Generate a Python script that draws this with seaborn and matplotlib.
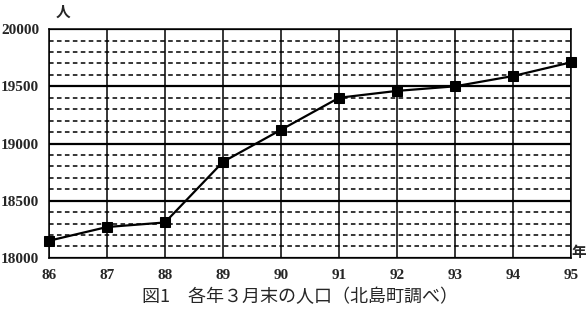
import matplotlib
matplotlib.use("Agg")
import matplotlib.pyplot as plt
import seaborn as sns
import pandas as pd
from matplotlib.ticker import MultipleLocator

years = [86, 87, 88, 89, 90, 91, 92, 93, 94, 95]
population = [18150, 18270, 18310, 18840, 19120, 19400, 19460, 19500, 19590, 19710]
y_ticks = [18000, 18500, 19000, 19500, 20000]
caption = "図1　各年３月末の人口（北島町調べ）"

sns.set_theme(style="white")
plt.rcParams['font.family'] = ['Liberation Serif', 'Noto Sans CJK JP', 'DejaVu Sans']

df = pd.DataFrame({"year": years, "pop": population})

fig = plt.figure(figsize=(5.88, 3.13), dpi=100)
ax = fig.add_axes([0.0833, 0.176, 0.888, 0.731])

ax.set_xlim(86, 95)
ax.set_ylim(18000, 20000)
ax.yaxis.set_minor_locator(MultipleLocator(100))
ax.set_yticks(y_ticks)
ax.set_xticks(years)

ax.grid(which="minor", axis="y", color="black", linestyle=(0, (3, 2.2)), linewidth=1.1)
ax.grid(which="major", axis="y", color="black", linestyle="-", linewidth=1.6)
ax.grid(which="major", axis="x", color="black", linestyle="-", linewidth=1.1)
ax.set_axisbelow(True)

sns.lineplot(data=df, x="year", y="pop", ax=ax, color="black", linewidth=1.6,
             marker="s", markersize=7, markeredgecolor="black", markerfacecolor="black",
             zorder=5, clip_on=False)

for s in ax.spines.values():
    s.set_color("black")
    s.set_linewidth(1.1)
    s.set_visible(True)

ax.tick_params(axis="both", which="both", length=0, labelsize=11)
ax.tick_params(axis="x", pad=8)
ax.tick_params(axis="y", pad=7)
ax.set_yticklabels([str(v) for v in y_ticks], fontweight="bold")
ax.set_xticklabels([str(v) for v in years], fontweight="bold")
ax.set_xlabel("")
ax.set_ylabel("")

fig.text(0.107, 0.962, "人", ha="center", va="center", fontsize=10.5,
         family=['Noto Sans CJK JP'], fontweight="bold")
fig.text(0.985, 0.195, "年", ha="center", va="center", fontsize=10.5,
         family=['Noto Sans CJK JP'], fontweight="bold")
fig.text(0.51, 0.051, caption, ha="center", va="center", fontsize=13,
         family=['Noto Sans CJK JP'])

fig.savefig("out.png", dpi=100)
